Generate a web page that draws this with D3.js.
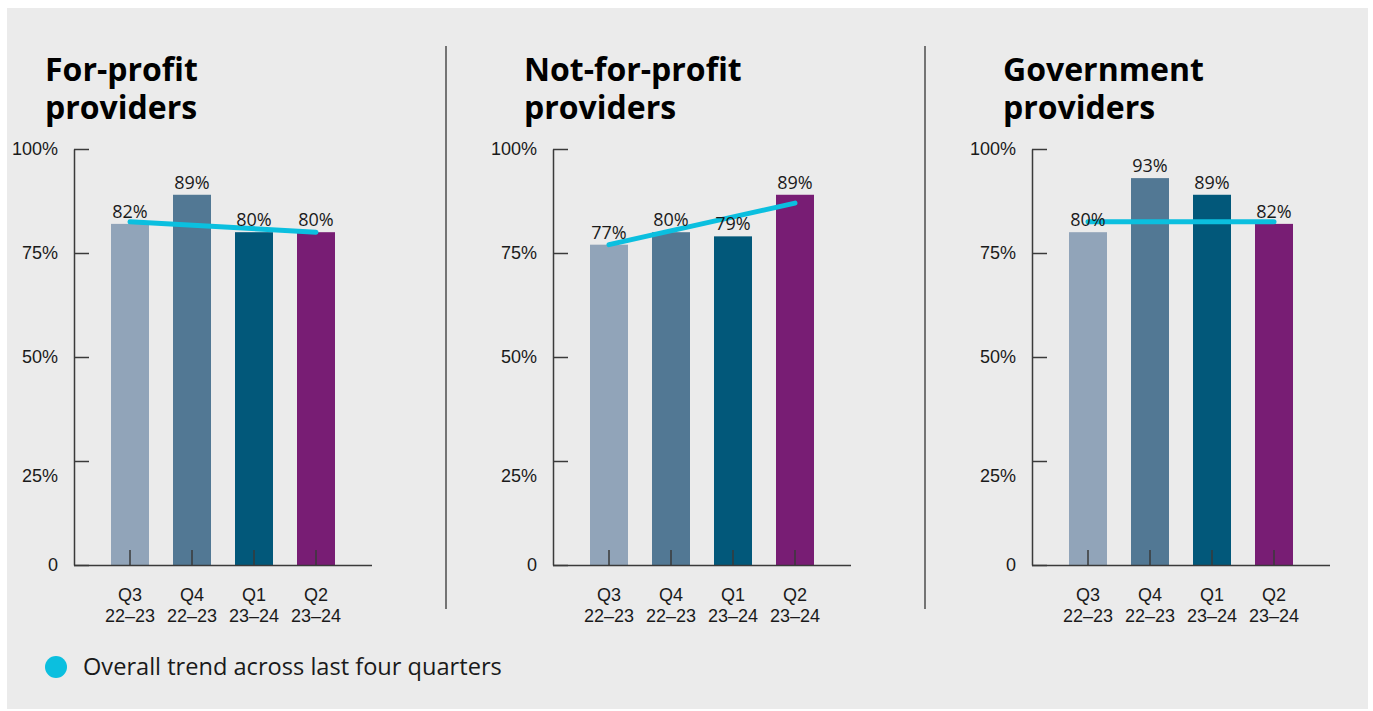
<!DOCTYPE html>
<html>
<head>
<meta charset="utf-8">
<script src="https://cdn.jsdelivr.net/npm/d3@7"></script>
<style>
  html, body { margin: 0; padding: 0; background: #ffffff; }
  svg { display: block; font-family: "Open Sans", "Noto Sans", sans-serif; }
</style>
</head>
<body>
<svg id="chart" width="1373" height="711"></svg>
<script>
// ---- data ----
const quarters = ["Q3", "Q4", "Q1", "Q2"];
const years = ["22–23", "22–23", "23–24", "23–24"];
const panelTitles = [["For-profit", "providers"], ["Not-for-profit", "providers"], ["Government", "providers"]];
const forProfit = [82, 89, 80, 80];
const notForProfit = [77, 80, 79, 89];
const government = [80, 93, 89, 82];
const trendForProfit = [82.5, 80];
const trendNotForProfit = [77, 87];
const trendGovernment = [82.5, 82.5];
const yTicks = [0, 25, 50, 75, 100];
const yTickLabels = ["0", "25%", "50%", "75%", "100%"];
const barColors = ["#91a4b9", "#527894", "#02587a", "#781d74"];
const trendColor = "#0bbfdf";
const legendLabel = "Overall trend across last four quarters";

const panels = [
  { title: panelTitles[0], values: forProfit, trend: trendForProfit },
  { title: panelTitles[1], values: notForProfit, trend: trendNotForProfit },
  { title: panelTitles[2], values: government, trend: trendGovernment }
];

// ---- layout ----
const svg = d3.select("#chart");
const textColor = "#1a1a1a";
const axisColor = "#3a3a3a";

svg.append("rect").attr("x", 7).attr("y", 8).attr("width", 1361).attr("height", 701).attr("fill", "#ebebeb");

const panelStep = 479;
const axisX0 = 74;
const axisW = 298;
const y = d3.scaleLinear().domain([0, 100]).range([565, 149]);

panels.forEach((p, i) => {
  const ox = axisX0 + i * panelStep;
  const g = svg.append("g");
  const x = d3.scaleBand().domain(quarters).range([ox + 25, ox + axisW - 25]).paddingInner(1 - 38 / 62).paddingOuter((1 - 38 / 62) / 2);

  // title
  const t = g.append("text").attr("x", ox - 29).attr("y", 81)
    .attr("font-size", 32).attr("font-weight", 700).attr("fill", "#000");
  t.append("tspan").attr("x", ox - 29).attr("y", 81).text(p.title[0]);
  t.append("tspan").attr("x", ox - 29).attr("y", 119).text(p.title[1]);

  // bars
  g.selectAll("rect.bar").data(p.values).join("rect")
    .attr("class", "bar")
    .attr("x", (d, j) => x(quarters[j]))
    .attr("y", d => y(d))
    .attr("width", x.bandwidth())
    .attr("height", d => y(0) - y(d))
    .attr("fill", (d, j) => barColors[j]);

  // trend line
  const cx = q => x(q) + x.bandwidth() / 2;
  g.append("line")
    .attr("x1", cx(quarters[0])).attr("y1", y(p.trend[0]))
    .attr("x2", cx(quarters[quarters.length - 1])).attr("y2", y(p.trend[1]))
    .attr("stroke", trendColor).attr("stroke-width", 5).attr("stroke-linecap", "round");

  // value labels
  g.selectAll("text.val").data(p.values).join("text")
    .attr("class", "val")
    .attr("x", (d, j) => cx(quarters[j]))
    .attr("y", d => y(d) - 6)
    .attr("text-anchor", "middle")
    .attr("font-size", 18).attr("fill", textColor)
    .text(d => d + "%");

  // y axis
  const yAxis = d3.axisLeft(y).tickValues(yTicks)
    .tickFormat((d, j) => yTickLabels[j])
    .tickSizeInner(-15).tickSizeOuter(0).tickPadding(16);
  const ya = g.append("g").attr("transform", `translate(${ox},0)`).call(yAxis);
  ya.select(".domain").attr("stroke", axisColor).attr("stroke-width", 1.5);
  ya.selectAll(".tick line").attr("stroke", axisColor).attr("stroke-width", 1.5);
  ya.selectAll(".tick text").attr("font-size", 18).attr("font-family", null).attr("fill", textColor)
    .attr("dy", d => d === 25 ? "1.15em" : "0.32em");

  // x axis
  const xAxis = d3.axisBottom(x).tickSizeInner(-15).tickSizeOuter(0).tickFormat(() => "");
  const xa = g.append("g").attr("transform", `translate(0,${y(0)})`).call(xAxis);
  xa.select(".domain").attr("d", `M${ox},0.5H${ox + axisW}`).attr("stroke", axisColor).attr("stroke-width", 1.5);
  xa.selectAll(".tick line").attr("stroke", axisColor).attr("stroke-width", 1.5);
  xa.selectAll(".tick text").remove();
  xa.selectAll(".tick").each(function (d, j) {
    const tx = d3.select(this).append("text")
      .attr("text-anchor", "middle").attr("font-size", 18).attr("fill", textColor);
    tx.append("tspan").attr("x", 0).attr("y", 36).text(quarters[j]);
    tx.append("tspan").attr("x", 0).attr("y", 57).text(years[j]);
  });

  // separator
  if (i < panels.length - 1) {
    const sx = ox + 372;
    g.append("line").attr("x1", sx).attr("x2", sx).attr("y1", 46).attr("y2", 609)
      .attr("stroke", "#4d4d4d").attr("stroke-width", 1.5);
  }
});

// legend
svg.append("circle").attr("cx", 56).attr("cy", 667).attr("r", 11).attr("fill", trendColor);
svg.append("text").attr("x", 83).attr("y", 675).attr("font-size", 23.6).attr("fill", textColor).text(legendLabel);
</script>
</body>
</html>
